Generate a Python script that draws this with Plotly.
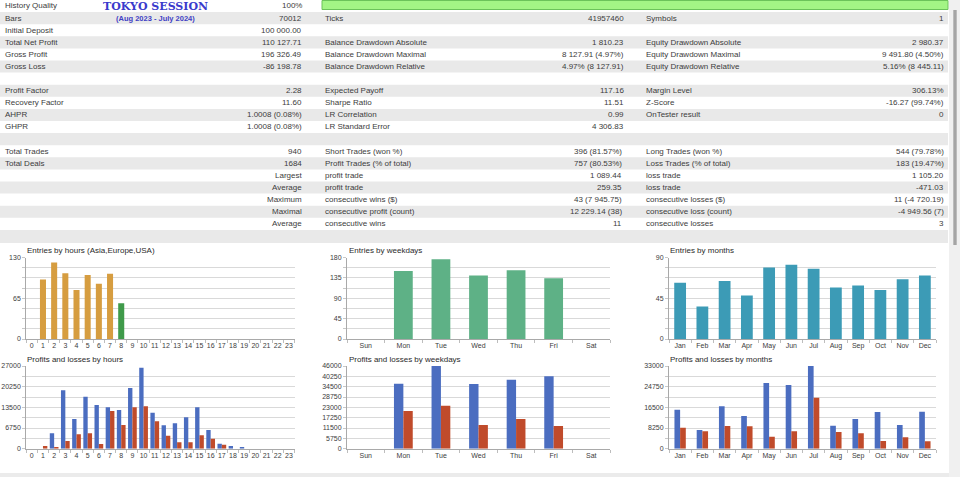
import plotly.graph_objects as go

W, H = 960, 477


def px(x):
    return x / W


def py(y):
    return 1 - y / H


# ---------------- data ----------------
report_title = "TOKYO SESSION"
report_period = "(Aug 2023 - July 2024)"

top_left_labels = ["History Quality", "Bars", "Initial Deposit", "Total Net Profit", "Gross Profit",
                   "Gross Loss", "", "Profit Factor", "Recovery Factor", "AHPR", "GHPR"]
top_left_values = ["100%", "70012", "100 000.00", "110 127.71", "196 326.49",
                   "-86 198.78", "", "2.28", "11.60", "1.0008 (0.08%)", "1.0008 (0.08%)"]
top_mid_labels = ["", "Ticks", "", "Balance Drawdown Absolute", "Balance Drawdown Maximal",
                  "Balance Drawdown Relative", "", "Expected Payoff", "Sharpe Ratio", "LR Correlation",
                  "LR Standard Error"]
top_mid_values = ["", "41957460", "", "1 810.23", "8 127.91 (4.97%)", "4.97% (8 127.91)", "",
                  "117.16", "11.51", "0.99", "4 306.83"]
top_right_labels = ["", "Symbols", "", "Equity Drawdown Absolute", "Equity Drawdown Maximal",
                    "Equity Drawdown Relative", "", "Margin Level", "Z-Score", "OnTester result", ""]
top_right_values = ["", "1", "", "2 980.37", "9 491.80 (4.50%)", "5.16% (8 445.11)", "",
                    "306.13%", "-16.27 (99.74%)", "0", ""]

trade_left_labels = ["Total Trades", "Total Deals", "", "", "", "", ""]
trade_left_values = ["940", "1684", "Largest", "Average", "Maximum", "Maximal", "Average"]
trade_mid_labels = ["Short Trades (won %)", "Profit Trades (% of total)", "profit trade", "profit trade",
                    "consecutive wins ($)", "consecutive profit (count)", "consecutive wins"]
trade_mid_values = ["396 (81.57%)", "757 (80.53%)", "1 089.44", "259.35", "43 (7 945.75)",
                    "12 229.14 (38)", "11"]
trade_right_labels = ["Long Trades (won %)", "Loss Trades (% of total)", "loss trade", "loss trade",
                      "consecutive losses ($)", "consecutive loss (count)", "consecutive losses"]
trade_right_values = ["544 (79.78%)", "183 (19.47%)", "1 105.20", "-471.03", "11 (-4 720.19)",
                      "-4 949.56 (7)", "3"]

hours = [0, 1, 2, 3, 4, 5, 6, 7, 8, 9, 10, 11, 12, 13, 14, 15, 16, 17, 18, 19, 20, 21, 22, 23]
hour_labels = ["0", "1", "2", "3", "4", "5", "6", "7", "8", "9", "10", "11", "12", "13", "14", "15",
               "16", "17", "18", "19", "20", "21", "22", "23"]
weekday_labels = ["Sun", "Mon", "Tue", "Wed", "Thu", "Fri", "Sat"]
month_labels = ["Jan", "Feb", "Mar", "Apr", "May", "Jun", "Jul", "Aug", "Sep", "Oct", "Nov", "Dec"]

entries_hours = [0, 95, 122, 105, 78, 102, 88, 104, 57, 0, 0, 0, 0, 0, 0, 0, 0, 0, 0, 0, 0, 0, 0, 0]
hour_session = ["Asia", "Asia", "Asia", "Asia", "Asia", "Asia", "Asia", "Asia", "Europe", "Europe",
                "Europe", "Europe", "Europe", "Europe", "Europe", "USA", "USA", "USA", "USA", "USA",
                "USA", "USA", "USA", "USA"]
entries_weekdays = [0, 150, 176, 140, 152, 134, 0]
entries_months = [62, 36, 64, 48, 79, 82, 77.5, 57, 59, 54, 66, 70]

profit_hours = [0, 0, 5008, 19053, 9690, 16984, 14262, 13500, 12629, 19815, 26456, 11758, 7621, 8274,
                10234, 13500, 6097, 1633, 871, 544, 0, 0, 0, 0]
loss_hours = [0, 871, 544, 2504, 4682, 5008, 1524, 12303, 7730, 13500, 13827, 8928, 4246, 2069, 2069,
              4355, 3266, 1306, 0, 0, 0, 0, 0, 0]
profit_weekdays = [0, 36170, 46000, 35985, 38396, 40251, 0]
loss_weekdays = [0, 20960, 23928, 13170, 16509, 12613, 0]
profit_months = [15568, 7452, 16899, 13040, 26213, 25415, 33000, 9181, 11843, 14637, 9447, 14770]
loss_months = [8383, 6919, 9048, 8915, 4790, 6919, 20359, 6653, 6121, 3060, 4524, 2927]

# ---------------- styles ----------------
TXT = "#3c3c3c"
FONT = "Liberation Sans"
GRID = "#d9d9d9"
AXIS = "#a9a9a9"
ROWGRAY = "#e9e9e9"
session_colors = {"Asia": "#d69d40", "Europe": "#3f9a4a", "USA": "#4a72c0"}
C_WEEK = "#5eb186"
C_MON = "#3c9bb6"
C_PROF = "#4b6dc0"
C_LOSS = "#c04b2b"

fig = go.Figure()

# ---------------- charts ----------------
tf = dict(family=FONT, size=7, color=TXT)

charts = [
    dict(n=1, x=(26.2, 294.5), y=(257.5, 339.0), cats=hours, labels=hour_labels, ymax=130, dt=65,
         mdt=16.25, title="Entries by hours (Asia,Europe,USA)", tx=25),
    dict(n=2, x=(347.0, 610.0), y=(257.5, 339.0), cats=list(range(7)), labels=weekday_labels, ymax=180,
         dt=45, mdt=22.5, title="Entries by weekdays", tx=347),
    dict(n=3, x=(669.0, 936.0), y=(257.5, 339.0), cats=list(range(12)), labels=month_labels, ymax=90,
         dt=45, mdt=11.25, title="Entries by months", tx=668),
    dict(n=4, x=(26.2, 294.5), y=(366.0, 448.7), cats=hours, labels=hour_labels, ymax=27000, dt=6750,
         mdt=3375, title="Profits and losses by hours", tx=25),
    dict(n=5, x=(347.0, 610.0), y=(366.0, 448.7), cats=list(range(7)), labels=weekday_labels,
         ymax=46000, dt=5750, mdt=5750, title="Profits and losses by weekdays", tx=347),
    dict(n=6, x=(669.0, 936.0), y=(366.0, 448.7), cats=list(range(12)), labels=month_labels,
         ymax=33000, dt=8250, mdt=4125, title="Profits and losses by months", tx=668),
]

annotations = []
shapes = []

for c in charts:
    n = c["n"]
    xa = dict(domain=[px(c["x"][0]), px(c["x"][1])], range=[-0.5, len(c["cats"]) - 0.5],
              tickmode="array", tickvals=c["cats"], ticktext=c["labels"], showgrid=False,
              showline=True, linecolor=AXIS, linewidth=1, ticks="", tickfont=tf, zeroline=False,
              fixedrange=True, anchor=f"y{n}", automargin=False,
              minor=dict(tick0=0.5, dtick=1, ticks="outside", ticklen=3, tickcolor="#bdbdbd",
                         showgrid=False))
    ya = dict(domain=[py(c["y"][1]), py(c["y"][0])], range=[0, c["ymax"]], tickmode="linear", tick0=0,
              dtick=c["dt"], tickformat="d", showgrid=True, gridcolor=GRID, gridwidth=1,
              showline=True, linecolor=AXIS, linewidth=1, ticks="outside", ticklen=3,
              tickcolor="#c8c8c8", tickfont=tf, zeroline=False, fixedrange=True, anchor=f"x{n}",
              automargin=False,
              minor=dict(tick0=0, dtick=c["mdt"], showgrid=True, gridcolor=GRID, ticks="outside",
                         ticklen=3, tickcolor="#c8c8c8"))
    fig.layout[f"xaxis{n if n > 1 else ''}"] = xa
    fig.layout[f"yaxis{n if n > 1 else ''}"] = ya
    annotations.append(dict(text=c["title"], x=px(c["tx"]), y=py(c["y"][0] - 6.5), xref="paper",
                            yref="paper", xanchor="left", yanchor="middle", showarrow=False,
                            font=dict(family=FONT, size=8, color="#2a2a2a")))

# entries
fig.add_trace(go.Bar(x=hours, y=entries_hours, width=0.54,
                     marker=dict(color=[session_colors[s] for s in hour_session], line=dict(width=0)),
                     xaxis="x", yaxis="y", showlegend=False))
fig.add_trace(go.Bar(x=list(range(7)), y=entries_weekdays, width=0.5,
                     marker=dict(color=C_WEEK, line=dict(width=0)),
                     xaxis="x2", yaxis="y2", showlegend=False))
fig.add_trace(go.Bar(x=list(range(12)), y=entries_months, width=0.53,
                     marker=dict(color=C_MON, line=dict(width=0)),
                     xaxis="x3", yaxis="y3", showlegend=False))

# profits / losses
pl = [(4, hours, profit_hours, loss_hours, 0.39),
      (5, list(range(7)), profit_weekdays, loss_weekdays, 0.25),
      (6, list(range(12)), profit_months, loss_months, 0.255)]
for n, xs, prof, loss, w in pl:
    fig.add_trace(go.Bar(x=xs, y=prof, width=w, offset=-w,
                         marker=dict(color=C_PROF, line=dict(width=0)),
                         xaxis=f"x{n}", yaxis=f"y{n}", showlegend=False))
    fig.add_trace(go.Bar(x=xs, y=loss, width=w, offset=0,
                         marker=dict(color=C_LOSS, line=dict(width=0)),
                         xaxis=f"x{n}", yaxis=f"y{n}", showlegend=False))

# ---------------- report table ----------------
ROW_H = 12.1


def row_y(k):
    return 6 + ROW_H * k


for k in range(20):
    if k % 2 == 1:
        shapes.append(dict(type="rect", xref="paper", yref="paper", x0=0, x1=px(948),
                           y0=py(ROW_H * (k + 1) + (1 if k == 19 else 0)), y1=py(ROW_H * k),
                           fillcolor=ROWGRAY, line=dict(width=0), layer="below"))

shapes.append(dict(type="rect", xref="paper", yref="paper", x0=px(322), x1=px(948), y0=py(9.5), y1=py(0.5),
                   fillcolor="#a3f585", line=dict(color="#6cc35a", width=1), layer="below"))
shapes.append(dict(type="rect", xref="paper", yref="paper", x0=px(949), x1=1, y0=0, y1=1,
                   fillcolor="#f0f0f0", line=dict(width=0), layer="below"))
shapes.append(dict(type="rect", xref="paper", yref="paper", x0=px(953.3), x1=px(956.7), y0=py(245), y1=py(10),
                   fillcolor="#a5a5a5", line=dict(width=0), layer="below"))
shapes.append(dict(type="rect", xref="paper", yref="paper", x0=0, x1=px(949), y0=0, y1=py(473),
                   fillcolor="#ebebeb", line=dict(width=0), layer="below"))

tfont = dict(family=FONT, size=8, color=TXT)


def txt(s, x, y, anchor):
    if s:
        annotations.append(dict(text=s, x=px(x), y=py(y), xref="paper", yref="paper", xanchor=anchor,
                                yanchor="middle", showarrow=False, font=tfont))


for k in range(11):
    y = row_y(k)
    txt(top_left_labels[k], 3, y, "left")
    txt(top_left_values[k], 304, y, "right")
    txt(top_mid_labels[k], 323, y, "left")
    txt(top_mid_values[k], 626, y, "right")
    txt(top_right_labels[k], 644, y, "left")
    txt(top_right_values[k], 946, y, "right")

for i in range(7):
    y = row_y(12 + i)
    txt(trade_left_labels[i], 3, y, "left")
    txt(trade_left_values[i], 304, y, "right")
    txt(trade_mid_labels[i], 323, y, "left")
    txt(trade_mid_values[i], 624, y, "right")
    txt(trade_right_labels[i], 644, y, "left")
    txt(trade_right_values[i], 946, y, "right")

annotations.append(dict(text=report_title, x=px(155), y=py(6.5), xref="paper", yref="paper",
                        xanchor="center", yanchor="middle", showarrow=False,
                        font=dict(family="DejaVu Serif", size=11, color="#3a3acc", weight="bold")))
annotations.append(dict(text=report_period, x=px(155), y=py(18.5), xref="paper", yref="paper",
                        xanchor="center", yanchor="middle", showarrow=False,
                        font=dict(family=FONT, size=7.5, color="#4141c4", weight="bold")))

fig.update_layout(width=W, height=H, margin=dict(l=0, r=0, t=0, b=0, autoexpand=False),
                  paper_bgcolor="white", plot_bgcolor="rgba(0,0,0,0)", barmode="overlay",
                  showlegend=False, annotations=annotations, shapes=shapes, hovermode=False,
                  font=dict(family=FONT, color=TXT))

fig.write_html("out.html", config={"displayModeBar": False, "staticPlot": True},
               post_script="document.body.style.margin='0';document.body.style.padding='0';"
                           "document.body.style.overflow='hidden';")
